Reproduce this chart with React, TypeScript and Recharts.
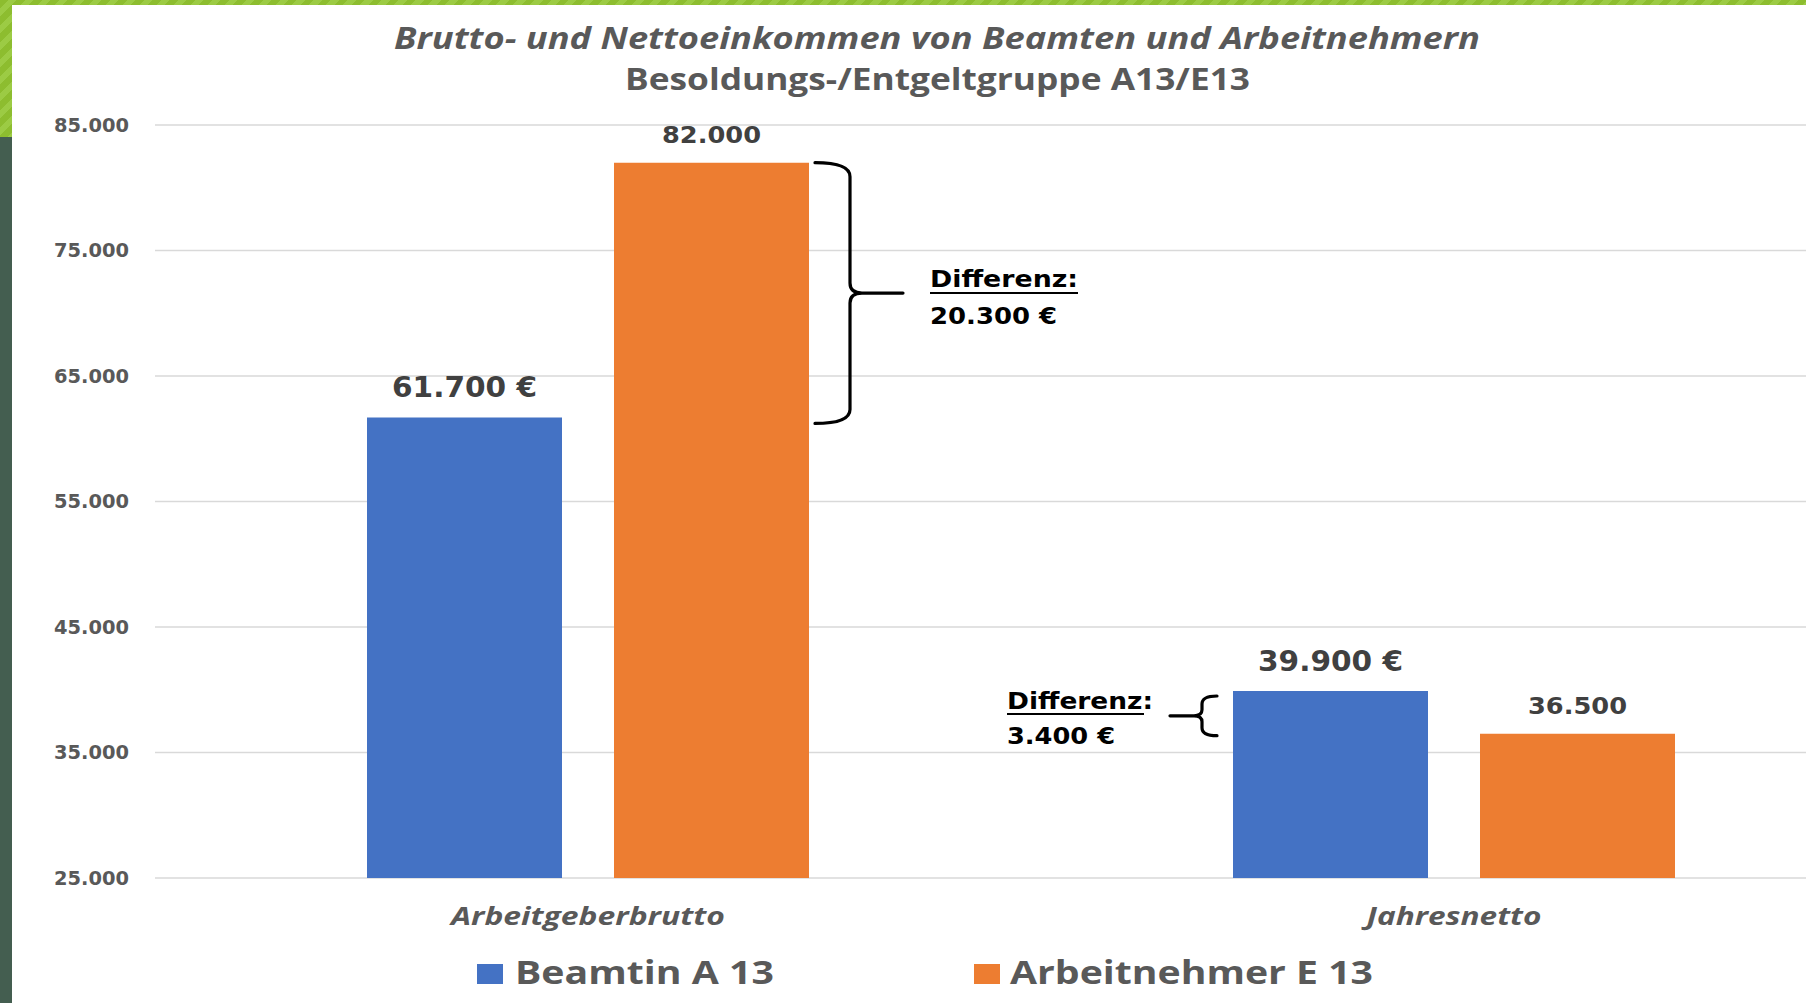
import React from "react";
import { BarChart, Bar, XAxis, YAxis, CartesianGrid, LabelList } from "recharts";

const categories = ["Arbeitgeberbrutto", "Jahresnetto"];
const beamtinValues = [61700, 39900];
const arbeitnehmerValues = [82000, 36500];
const yTicks = [25000, 35000, 45000, 55000, 65000, 75000, 85000];
const seriesNames = ["Beamtin A 13", "Arbeitnehmer E 13"];
const titleLines = ["Brutto- und Nettoeinkommen von Beamten und Arbeitnehmern", "Besoldungs-/Entgeltgruppe A13/E13"];
const differenzLabel = "Differenz:";
const differenzValues = ["20.300 €", "3.400 €"];

const data = categories.map((c, i) => ({
  category: c,
  beamtin: beamtinValues[i],
  arbeitnehmer: arbeitnehmerValues[i],
}));

const Y_MIN = 25000;
const Y_MAX = 85000;
const PLOT_TOP = 125;
const PLOT_BOTTOM = 878;
const yPix = (v: number) => PLOT_TOP + ((Y_MAX - v) / (Y_MAX - Y_MIN)) * (PLOT_BOTTOM - PLOT_TOP);

const fmt = (v: number) => String(v).replace(/\B(?=(\d{3})+(?!\d))/g, ".");

const BLUE = "#4472C4";
const ORANGE = "#ED7D31";
const GRAY = "#595959";
const DARK = "#404040";
const NUM_FONT = "'DejaVu Sans', Verdana, sans-serif";
const TXT_FONT = "'Open Sans', 'Noto Sans', sans-serif";

const xLabelWidth: Record<string, number> = { Arbeitgeberbrutto: 274, Jahresnetto: 175 };

const YTick = (props: any) => {
  const { x, y, payload } = props;
  const w = 75;
  return (
    <text x={x - w} y={y} dy="0.36em" textLength={w} lengthAdjust="spacingAndGlyphs"
      style={{ fontFamily: NUM_FONT, fontWeight: 700, fontSize: 19, fill: GRAY }}>
      {fmt(payload.value)}
    </text>
  );
};

const XTick = (props: any) => {
  const { x, y, payload } = props;
  const w = xLabelWidth[payload.value] || 200;
  return (
    <text x={x - w / 2} y={y + 47} textLength={w} lengthAdjust="spacingAndGlyphs"
      style={{ fontFamily: TXT_FONT, fontWeight: 700, fontStyle: "italic", fontSize: 25, fill: GRAY }}>
      {payload.value}
    </text>
  );
};

const BlueLabel = (props: any) => {
  const { x, y, width, value } = props;
  const w = 145;
  return (
    <text x={x + width / 2 - w / 2} y={y - 20} textLength={w} lengthAdjust="spacingAndGlyphs"
      style={{ fontFamily: NUM_FONT, fontWeight: 700, fontSize: 28, fill: DARK }}>
      {fmt(value) + " €"}
    </text>
  );
};

const OrangeLabel = (props: any) => {
  const { x, y, width, value } = props;
  const w = 99;
  return (
    <text x={x + width / 2 - w / 2} y={y - 20} textLength={w} lengthAdjust="spacingAndGlyphs"
      style={{ fontFamily: NUM_FONT, fontWeight: 700, fontSize: 23, fill: DARK }}>
      {fmt(value)}
    </text>
  );
};

const Overlay = () => {
  // big brace "}" between the two Brutto bars
  const t1 = yPix(arbeitnehmerValues[0]);
  const b1 = yPix(beamtinValues[0]) + 6;
  const m1 = (t1 + b1) / 2;
  const brace1 =
    `M 815 ${t1} Q 850 ${t1} 850 ${t1 + 14} L 850 ${m1 - 10} Q 850 ${m1} 862 ${m1} ` +
    `Q 850 ${m1} 850 ${m1 + 10} L 850 ${b1 - 14} Q 850 ${b1} 815 ${b1} M 858 ${m1} L 903 ${m1}`;
  // small brace "{" left of Netto bars
  const t2 = yPix(beamtinValues[1]) + 5;
  const b2 = yPix(arbeitnehmerValues[1]) + 2;
  const m2 = (t2 + b2) / 2;
  const brace2 =
    `M 1217 ${t2} Q 1202 ${t2} 1202 ${t2 + 8} L 1202 ${m2 - 6} Q 1202 ${m2} 1194 ${m2} ` +
    `Q 1202 ${m2} 1202 ${m2 + 6} L 1202 ${b2 - 8} Q 1202 ${b2} 1217 ${b2} M 1197 ${m2} L 1170 ${m2}`;
  const annStyle = { fontFamily: NUM_FONT, fontWeight: 700, fontSize: 23, fill: "#000" };
  return (
    <svg width={1806} height={1003} style={{ position: "absolute", left: 0, top: 0, pointerEvents: "none" }}>
      <text x={394} y={49} textLength={1086} lengthAdjust="spacingAndGlyphs"
        style={{ fontFamily: TXT_FONT, fontWeight: 700, fontStyle: "italic", fontSize: 31, fill: GRAY }}>
        {titleLines[0]}
      </text>
      <text x={625} y={90} textLength={625} lengthAdjust="spacingAndGlyphs"
        style={{ fontFamily: TXT_FONT, fontWeight: 700, fontSize: 30, fill: GRAY }}>
        {titleLines[1]}
      </text>

      <path d={brace1} fill="none" stroke="#000" strokeWidth={3.2} strokeLinecap="round" strokeLinejoin="round" />
      <text x={930} y={287} textLength={148} lengthAdjust="spacingAndGlyphs" style={annStyle}>{differenzLabel}</text>
      <line x1={930} x2={1078} y1={293} y2={293} stroke="#000" strokeWidth={2} />
      <text x={930} y={324} textLength={127} lengthAdjust="spacingAndGlyphs" style={annStyle}>{differenzValues[0]}</text>

      <path d={brace2} fill="none" stroke="#000" strokeWidth={3.2} strokeLinecap="round" strokeLinejoin="round" />
      <text x={1007} y={709} textLength={146} lengthAdjust="spacingAndGlyphs" style={annStyle}>{differenzLabel}</text>
      <line x1={1007} x2={1144} y1={714} y2={714} stroke="#000" strokeWidth={2} />
      <text x={1007} y={744} textLength={108} lengthAdjust="spacingAndGlyphs" style={annStyle}>{differenzValues[1]}</text>

      <rect x={477} y={964} width={26} height={20} fill={BLUE} />
      <text x={515} y={984} textLength={259} lengthAdjust="spacingAndGlyphs"
        style={{ fontFamily: TXT_FONT, fontWeight: 700, fontSize: 33, fill: GRAY }}>{seriesNames[0]}</text>
      <rect x={974} y={964} width={26} height={20} fill={ORANGE} />
      <text x={1010} y={984} textLength={363} lengthAdjust="spacingAndGlyphs"
        style={{ fontFamily: TXT_FONT, fontWeight: 700, fontSize: 33, fill: GRAY }}>{seriesNames[1]}</text>
    </svg>
  );
};

export default function App() {
  return (
    <div style={{ position: "fixed", left: 0, top: 0, width: 1806, height: 1003, overflow: "hidden", background: "#fff" }}>
      <div style={{ position: "absolute", left: 0, top: 0 }}>
        <BarChart width={1900} height={1003} data={data}
          margin={{ top: 125, right: 13, left: 0, bottom: 65 }}
          barSize={195} barGap={52}>
          <CartesianGrid vertical={false} stroke="#d9d9d9" strokeWidth={1.5} />
          <XAxis dataKey="category" axisLine={false} tickLine={false} tickSize={0} tickMargin={0}
            height={60} tick={<XTick />} interval={0} />
          <YAxis type="number" domain={[Y_MIN, Y_MAX]} ticks={yTicks} allowDataOverflow
            axisLine={false} tickLine={false} tickSize={0} tickMargin={26} width={155}
            tick={<YTick />} interval={0} />
          <Bar dataKey="beamtin" fill={BLUE} isAnimationActive={false} name={seriesNames[0]}>
            <LabelList dataKey="beamtin" content={<BlueLabel />} />
          </Bar>
          <Bar dataKey="arbeitnehmer" fill={ORANGE} isAnimationActive={false} name={seriesNames[1]}>
            <LabelList dataKey="arbeitnehmer" content={<OrangeLabel />} />
          </Bar>
        </BarChart>
      </div>
      <Overlay />
      <div style={{
        position: "absolute", left: 0, top: 0, width: 1806, height: 5,
        background: "repeating-linear-gradient(135deg, #8dbd2f 0 6px, #9ccb44 6px 12px)",
      }} />
      <div style={{
        position: "absolute", left: 0, top: 0, width: 12, height: 137,
        background: "repeating-linear-gradient(135deg, #8dbd2f 0 6px, #9ccb44 6px 12px)",
      }} />
      <div style={{ position: "absolute", left: 0, top: 137, width: 12, height: 866, background: "#445e50" }} />
    </div>
  );
}
